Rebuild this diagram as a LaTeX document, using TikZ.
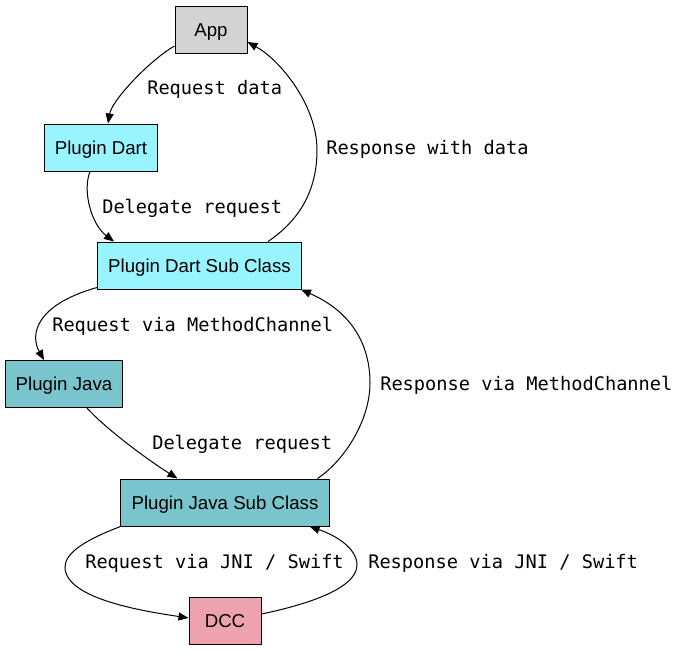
\documentclass[tikz,border=0pt]{standalone}
\usepackage{fontspec}
\setmainfont{Liberation Sans}
\newfontfamily\monof{DejaVu Sans Mono}
\usetikzlibrary{arrows.meta,calc}
\definecolor{cgray}{HTML}{D3D3D3}
\definecolor{ccyan}{HTML}{98F5FF}
\definecolor{cteal}{HTML}{7AC5CD}
\definecolor{cpink}{HTML}{EEA2AD}
\begin{document}
\begin{tikzpicture}[x=0.75pt,y=-0.75pt,
  box/.style={draw=black,line width=0.75pt,rectangle,minimum height=35.25pt,minimum width=54pt,inner xsep=8pt,text height=12pt,text depth=2pt,font=\fontsize{14pt}{16pt}\selectfont},
  lbl/.style={anchor=west,inner sep=0pt,font=\monof\fontsize{14pt}{16pt}\selectfont},
  edge/.style={line width=0.75pt,-{Triangle[length=7.5pt,width=6pt]}}]
\useasboundingbox (0,0) rectangle (688,651);
\node[box,fill=cgray] (app) at (211,29.5) {App};
\node[box,fill=ccyan] (pd) at (101,147.5) {Plugin Dart};
\node[box,fill=ccyan] (pdsc) at (199.5,265.5) {Plugin Dart Sub Class};
\node[box,fill=cteal] (pj) at (64,384) {Plugin Java};
\node[box,fill=cteal] (pjsc) at (225,502.5) {Plugin Java Sub Class};
\node[box,fill=cpink] (dcc) at (225,621) {DCC};
% edges
\draw[edge] ($(app.west)+(0,16.5)$) .. controls (150,60) and (112,100) .. ($(pd.north)+(7,0)$);
\draw[edge] ($(pd.south)+(-11,0)$) .. controls (82,192) and (92,225) .. ($(pdsc.north west)+(17,0)$);
\draw[edge] ($(pdsc.north east)+(-34,0)$) .. controls (300,220) and (317,190) .. (317,150) .. controls (317,105) and (280,60) .. ($(app.east)+(0,12.5)$);
\draw[edge] ($(pdsc.south west)+(0,-2)$) .. controls (35,305) and (30,335) .. ($(pj.north)+(-20,0)$);
\draw[edge] ($(pj.south)+(23,0)$) .. controls (105,428) and (145,458) .. ($(pjsc.north west)+(57,0)$);
\draw[edge] ($(pjsc.north east)+(-12,0)$) .. controls (345,460) and (370,420) .. (370,383) .. controls (370,345) and (352,312) .. ($(pdsc.south east)+(-1,0)$);
\draw[edge] (pjsc.south west) .. controls (85,540) and (65,553) .. (65,567) .. controls (65,600) and (150,612) .. ($(dcc.west)+(0,-3)$);
\draw[edge] ($(dcc.east)+(0,-7)$) .. controls (300,606) and (357,590) .. (357,565) .. controls (357,548) and (335,535) .. ($(pjsc.south east)+(-20,0)$);
% labels
\node[lbl] (l1) at (147,89) {Request data};
\node[lbl] (l2) at (102,208) {Delegate request};
\node[lbl] (l3) at (326,149) {Response with data};
\node[lbl] (l4) at (52,326) {Request via MethodChannel};
\node[lbl] (l5) at (152,444) {Delegate request};
\node[lbl] (l6) at (380,385) {Response via MethodChannel};
\node[lbl] (l7) at (85,563) {Request via JNI / Swift};
\node[lbl] (l8) at (368,563) {Response via JNI / Swift};
\end{tikzpicture}
\end{document}
